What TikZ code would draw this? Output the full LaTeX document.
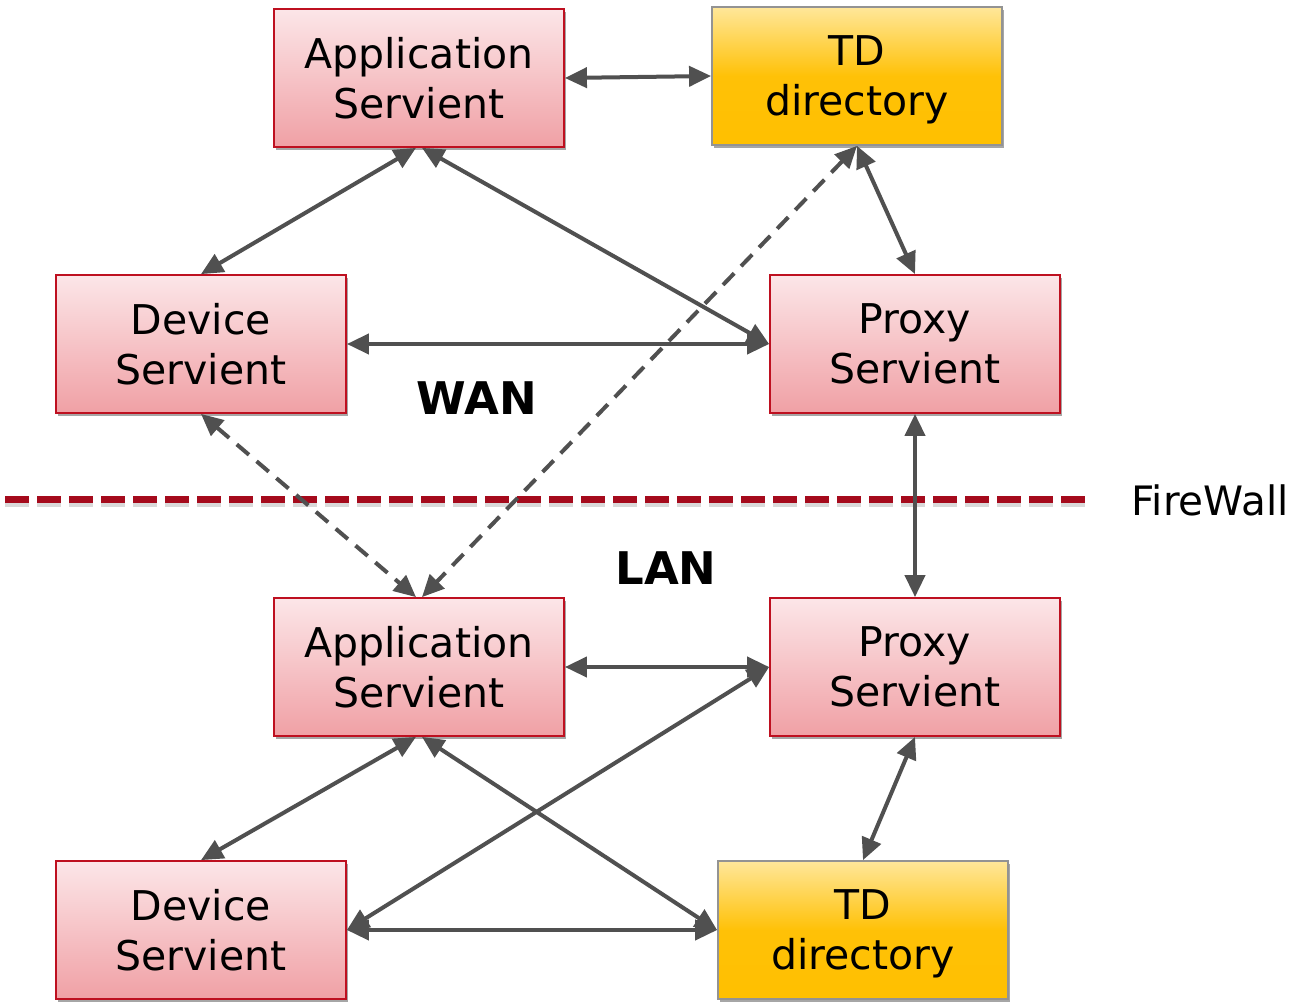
\documentclass[tikz,border=0pt]{standalone}
\usepackage{fontspec}
\setmainfont{DejaVu Sans}
\usetikzlibrary{arrows.meta,shadows}
\definecolor{pinktop}{HTML}{FCE6E8}
\definecolor{pinkbot}{HTML}{F0A0A5}
\definecolor{redborder}{HTML}{BE1020}
\definecolor{yeltop}{HTML}{FFE79A}
\definecolor{yelmid}{HTML}{FFC107}
\definecolor{yelbot}{HTML}{FFC000}
\definecolor{arrowgray}{HTML}{505050}
\definecolor{fwred}{HTML}{A50A1C}
\newcommand{\nodepth}[1]{\raisebox{0pt}[\height][0pt]{#1}}
\tikzset{
  boxbase/.style={rectangle, minimum width=290, minimum height=138, align=center,
    line width=1.8pt, inner sep=0pt,
    font=\fontsize{41}{50}\selectfont,
    drop shadow={shadow xshift=2pt, shadow yshift=-3pt, opacity=0.35, fill=black}},
  rbox/.style={boxbase, draw=redborder, top color=pinktop, bottom color=pinkbot},
  ybox/.style={boxbase, draw=gray!85, top color=yeltop, bottom color=yelbot, middle color=yelmid},
  tipa/.tip={Triangle[length=22pt,width=20pt]},
  arr/.style={draw=arrowgray, line width=4pt, tipa-tipa},
  darr/.style={arr, dash pattern=on 16pt off 10pt},
  zonelbl/.style={font=\bfseries\fontsize{45}{50}\selectfont},
}
\begin{document}
\begin{tikzpicture}[x=1pt,y=-1pt]
\useasboundingbox (0,0) rectangle (1297,1001);
\fill[white] (0,0) rectangle (1297,1001);
% firewall
\coordinate (fwL) at (5,499);
\coordinate (fwR) at (1085,499);
\draw[black, opacity=0.15, line width=7pt, dash pattern=on 24pt off 8pt] ([yshift=-4pt]fwL) -- ([yshift=-4pt]fwR);
\draw[fwred, line width=7pt, dash pattern=on 24pt off 8pt] (fwL) -- (fwR);
\node[font=\fontsize{40.5}{48}\selectfont] (fw) at (1210,500) {FireWall};
\node[zonelbl] (wan) at (477,398) {WAN};
\node[zonelbl] (lan) at (666,568) {LAN};
% boxes
\node[rbox] (apptop) at (419,78) {Application\\Servient};
\node[ybox] (tdtop) at (857,76) {TD\\\nodepth{directory}};
\node[rbox] (devtop) at (201,344) {Device\\Servient};
\node[rbox] (proxtop) at (915,344) {Proxy\\Servient};
\node[rbox] (appbot) at (419,667) {Application\\Servient};
\node[rbox] (proxbot) at (915,667) {Proxy\\Servient};
\node[rbox] (devbot) at (201,930) {Device\\Servient};
\node[ybox] (tdbot) at (863,930) {TD\\\nodepth{directory}};
% connectors
\draw[arr] (apptop.east) -- (tdtop.west);
\draw[arr] ([xshift=-3pt]apptop.south) -- (devtop.north);
\draw[arr] ([xshift=3pt]apptop.south) -- (proxtop.west);
\draw[arr] (devtop.east) -- (proxtop.west);
\draw[arr] (tdtop.south) -- (proxtop.north);
\draw[darr] (devtop.south) -- ([xshift=-3pt]appbot.north);
\draw[darr] (tdtop.south) -- ([xshift=3pt]appbot.north);
\draw[arr] (proxtop.south) -- (proxbot.north);
\draw[arr] (appbot.east) -- (proxbot.west);
\draw[arr] ([xshift=-3pt]appbot.south) -- (devbot.north);
\draw[arr] ([xshift=3pt]appbot.south) -- (tdbot.west);
\draw[arr] (proxbot.west) -- (devbot.east);
\draw[arr] (devbot.east) -- (tdbot.west);
\draw[arr] (proxbot.south) -- (tdbot.north);
\end{tikzpicture}
\end{document}
